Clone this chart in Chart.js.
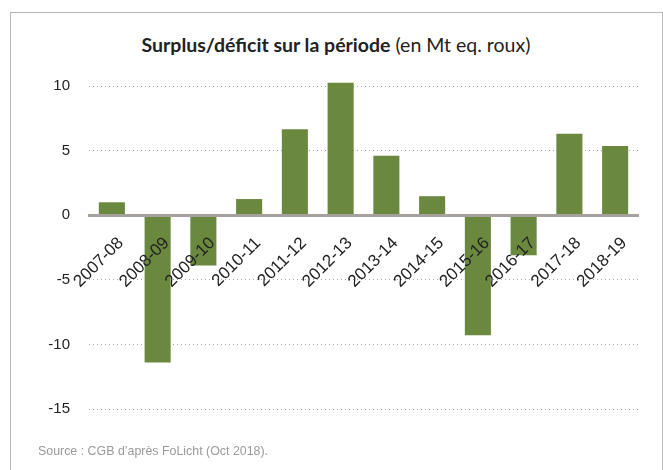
<!DOCTYPE html>
<html>
<head>
<meta charset="utf-8">
<script src="https://cdn.jsdelivr.net/npm/chart.js@4/dist/chart.umd.min.js"></script>
<style>
  body { margin: 0; background: #fff; }
  #frame {
    position: absolute; left: 10px; top: 12px; width: 653px; height: 470px;
    border: 1px solid #b8b8b8; box-sizing: border-box;
  }
  #title {
    position: absolute; left: 0; top: 33px; width: 672px; text-align: center;
    font-family: Lato, sans-serif; font-size: 19.5px; line-height: 24px; color: #222;
  }
  #title b { font-weight: 700; }
  #source {
    position: absolute; left: 38px; top: 444px;
    font-family: "Liberation Sans", Arial, sans-serif;
    font-size: 12.4px; color: #9a9a9a;
  }
  #chartBox { position: absolute; left: 0; top: 0; width: 663px; height: 470px; }
</style>
</head>
<body>
<div id="frame"></div>
<div id="title"><b>Surplus/déficit sur la période</b> (en Mt eq. roux)</div>
<div id="chartBox"><canvas id="myChart"></canvas></div>
<div id="source">Source : CGB d’après FoLicht (Oct 2018).</div>
<script>
// data
const periods = ['2007-08', '2008-09', '2009-10', '2010-11', '2011-12', '2012-13',
                 '2013-14', '2014-15', '2015-16', '2016-17', '2017-18', '2018-19'];
const surplus = [1.0, -11.4, -3.9, 1.25, 6.65, 10.25, 4.6, 1.47, -9.3, -3.1, 6.3, 5.35];
const yTicks = [10, 5, 0, -5, -10, -15];

const ctx = document.getElementById('myChart').getContext('2d');

new Chart(ctx, {
    type: 'bar',
    data: {
        labels: periods,
        datasets: [{
            data: surplus,
            backgroundColor: '#6a893f',
            barPercentage: 0.57,
            categoryPercentage: 1,
            clip: false
        }]
    },
    options: {
        responsive: true,
        maintainAspectRatio: false,
        animation: false,
        layout: { padding: { left: 0, right: 25, top: 86, bottom: 61 } },
        plugins: { legend: { display: false }, tooltip: { enabled: false } },
        scales: {
            x: {
                position: { y: 0 },
                grid: { display: false, drawTicks: false },
                border: { color: '#a7a19d', width: 3, z: 1 },
                ticks: {
                    z: 1, // labels sit on top of the bars
                    color: '#222',
                    font: { family: 'Liberation Sans, Arial, sans-serif', size: 17 },
                    maxRotation: 45, minRotation: 45,
                    labelOffset: 9,
                    padding: 18
                },
                afterFit: (scale) => {
                    scale.paddingLeft = 0;
                    scale.paddingRight = 0;
                }
            },
            y: {
                min: Math.min(...yTicks),
                max: Math.max(...yTicks),
                grid: {
                    color: '#a8a8a8',
                    lineWidth: 1,
                    drawTicks: false
                },
                border: { display: false, dash: [1, 3] },
                ticks: {
                    stepSize: 5,
                    color: '#222',
                    padding: 19,
                    font: { family: 'Liberation Sans, Arial, sans-serif', size: 15 }
                },
                afterFit: (scale) => { scale.width = 89; }
            }
        }
    }
});
</script>
</body>
</html>
